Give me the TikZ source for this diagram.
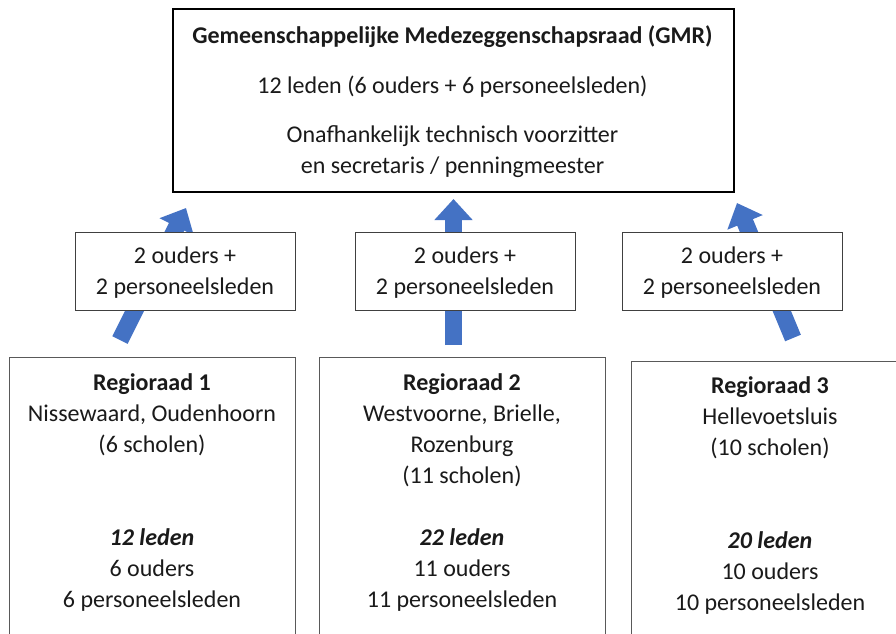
\documentclass[tikz,border=0pt]{standalone}
\usepackage{fontspec}
\setmainfont{Carlito}
\usetikzlibrary{arrows.meta}
\definecolor{arrowblue}{HTML}{4472C4}
\definecolor{txtcol}{HTML}{1A1A1A}
\definecolor{boxgray}{HTML}{595959}
\definecolor{smallgray}{HTML}{404040}
\begin{document}
\begin{tikzpicture}[x=1pt,y=1pt,
  blockarrow/.style={draw=arrowblue, line width=17pt, -{Triangle[width=37pt,length=21pt]}},
  gmrbox/.style={draw=black, line width=2pt, fill=white, inner sep=0pt, anchor=north west, minimum width=561pt, minimum height=183pt},
  smallbox/.style={draw=smallgray, line width=1.2pt, fill=white, inner sep=0pt, anchor=north west, minimum width=220pt, minimum height=78pt},
  regbox/.style={draw=boxgray, line width=1.3pt, fill=white, inner sep=0pt, anchor=north west, minimum width=286pt, minimum height=300pt},
  txt/.style={anchor=base, inner sep=0pt, text=txtcol, font=\fontsize{24}{31}\selectfont}
]
\path[use as bounding box] (0,0) rectangle (896,633);
\clip (0,0) rectangle (896,633);

% arrow end points
\coordinate (a1s) at (120,293);
\coordinate (a1e) at (186,425);
\coordinate (a2s) at (453.5,288);
\coordinate (a2e) at (453.5,434);
\coordinate (a3s) at (793,295);
\coordinate (a3e) at (737,430);

\draw[blockarrow] (a1s) -- (a1e);
\draw[blockarrow] (a2s) -- (a2e);
\draw[blockarrow] (a3s) -- (a3e);

% top box
\node[gmrbox] (gmr) at (172,625) {};
\node[txt] (gmrtext) at (452.5,589) {\begin{tabular}[t]{@{}c@{}}
\textbf{Gemeenschappelijke Medezeggenschapsraad (GMR)}\\[19pt]
12 leden (6 ouders + 6 personeelsleden)\\[18pt]
Onafhankelijk technisch voorzitter\\
en secretaris / penningmeester
\end{tabular}};

% small boxes
\node[smallbox] (s1) at (75,401) {};
\node[smallbox] (s2) at (355,401) {};
\node[smallbox] (s3) at (622,401) {};
\node[txt] (s1text) at (185,370) {\begin{tabular}[t]{@{}c@{}}2 ouders +\\2 personeelsleden\end{tabular}};
\node[txt] (s2text) at (465,370) {\begin{tabular}[t]{@{}c@{}}2 ouders +\\2 personeelsleden\end{tabular}};
\node[txt] (s3text) at (732,370) {\begin{tabular}[t]{@{}c@{}}2 ouders +\\2 personeelsleden\end{tabular}};

% region boxes
\node[regbox] (r1) at (9,276) {};
\node[regbox] (r2) at (319,276) {};
\node[regbox] (r3) at (631,272) {};
\node[txt] (r1text) at (152,243) {\begin{tabular}[t]{@{}c@{}}
\textbf{Regioraad 1}\\
Nissewaard, Oudenhoorn\\
(6 scholen)\\
\\
\\
\textbf{\textit{12 leden}}\\
6 ouders\\
6 personeelsleden
\end{tabular}};
\node[txt] (r2text) at (462,243) {\begin{tabular}[t]{@{}c@{}}
\textbf{Regioraad 2}\\
Westvoorne, Brielle,\\
Rozenburg\\
(11 scholen)\\
\\
\textbf{\textit{22 leden}}\\
11 ouders\\
11 personeelsleden
\end{tabular}};
\node[txt] (r3text) at (770,240) {\begin{tabular}[t]{@{}c@{}}
\textbf{Regioraad 3}\\
Hellevoetsluis\\
(10 scholen)\\
\\
\\
\textbf{\textit{20 leden}}\\
10 ouders\\
10 personeelsleden
\end{tabular}};
\end{tikzpicture}
\end{document}
